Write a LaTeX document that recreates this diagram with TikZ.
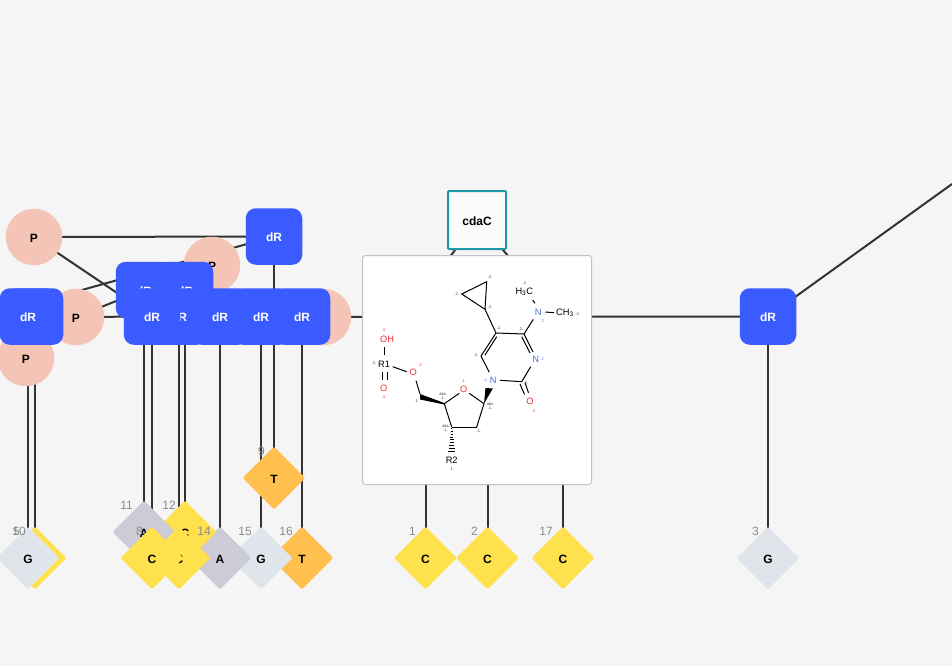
\documentclass[tikz,border=0pt]{standalone}
\usepackage{fontspec}
\setmainfont{Liberation Sans}
\usetikzlibrary{shapes.geometric}
\definecolor{bgc}{HTML}{F5F5F5}
\definecolor{pc}{HTML}{F4C5B6}
\definecolor{drc}{HTML}{3A5BFF}
\definecolor{tc}{HTML}{FFC04D}
\definecolor{cc}{HTML}{FFE04D}
\definecolor{ac}{HTML}{CDCCD6}
\definecolor{gc}{HTML}{E0E5EC}
\definecolor{edgec}{HTML}{333333}
\definecolor{tealc}{HTML}{2196A6}
\definecolor{labc}{HTML}{8A8A8A}
\definecolor{atomred}{HTML}{F0323C}
\definecolor{atomblue}{HTML}{4F6BE0}
\tikzset{
  link/.style={draw=edgec,line width=2pt},
  lowtext/.style={text height=10.4pt,text depth=0pt},
  pnode/.style={circle,fill=pc,minimum size=56.5pt,inner sep=0pt,lowtext,font=\fontsize{12}{12}\selectfont\bfseries},
  drnode/.style={rectangle,rounded corners=10pt,fill=drc,text=white,minimum size=56.5pt,inner sep=0pt,lowtext,font=\fontsize{12}{12}\selectfont\bfseries},
  base/.style={diamond,rounded corners=1.5pt,minimum width=63pt,minimum height=63pt,inner sep=0pt,lowtext,font=\fontsize{12}{12}\selectfont\bfseries},
  baseT/.style={base,fill=tc},
  baseC/.style={base,fill=cc},
  baseA/.style={base,fill=ac},
  baseG/.style={base,fill=gc},
  idx/.style={text=labc,font=\fontsize{12}{12}\selectfont,anchor=east,inner sep=0pt},
  card/.style={rectangle,rounded corners=3pt,fill=white,draw=black!15!gc,line width=1pt,minimum size=229pt,inner sep=0pt},
  sugar/.style={rectangle,fill=bgc!40!white,draw=tealc,line width=2pt,rounded corners=1pt,minimum size=58pt,inner sep=0pt,lowtext,font=\fontsize{12}{12}\selectfont\bfseries},
  bond/.style={draw=black,line width=1pt},
  atom/.style={inner sep=0pt,font=\fontsize{9.3}{9.3}\selectfont},
  tiny/.style={inner sep=0pt,font=\fontsize{4}{4}\selectfont,text=black!75},
}
\begin{document}
\begin{tikzpicture}[x=1pt,y=-1pt]
\useasboundingbox (0,0) rectangle (952,666);
\clip (0,0) rectangle (952,666);
\fill[bgc] (0,0) rectangle (952,666);
\coordinate (cfar) at (952,184);
\coordinate (chid) at (28,305);
\coordinate (chl) at (444,265);
\coordinate (chr) at (516,265);
\path
 (34,237) coordinate (P1) (212,265) coordinate (P2) (76,317) coordinate (P3)
 (26,358) coordinate (P4) (323,317) coordinate (P5)
 (274,236.5) coordinate (D0) (144,290) coordinate (D1) (185,290) coordinate (D2)
 (28,316.5) coordinate (D3) (35,316.5) coordinate (D4) (152,316.5) coordinate (D5)
 (179,316.5) coordinate (D6) (220,316.5) coordinate (D7) (261,316.5) coordinate (D8)
 (302,316.5) coordinate (D9) (768,316.5) coordinate (D10)
 (477,220) coordinate (S) (274,478) coordinate (BT)
 (28,558) coordinate (B5) (35,558) coordinate (B10) (144,532) coordinate (B11)
 (185,532) coordinate (B12) (152,558) coordinate (B8) (179,558) coordinate (B13)
 (220,558) coordinate (B14) (261,558) coordinate (B15) (302,558) coordinate (B16)
 (425.5,558) coordinate (B1) (487.5,558) coordinate (B2) (563,558) coordinate (B17)
 (768,558) coordinate (B3);
% connectors
\draw[link] (P1) -- (D0);
\draw[link] (P1) -- (D5);
\draw[link] (D0) -- (chid);
\draw[link] (P3) -- (D1);
\draw[link] (P3) -- (D5);
\draw[link] (P5) -- (D10);
\draw[link] (D10) -- (cfar);
\draw[link] (S) -- (chl);
\draw[link] (S) -- (chr);
\foreach \a/\b in {D3/B5,D4/B10,D0/BT,D7/B14,D8/B15,D9/B16,D10/B3}{\draw[link] (\a) -- (\b);}
\draw[link] (D1) -- (B11);
\draw[link] (D5) -- (B8);
\draw[link] (D6) -- (B13);
\draw[link] (D2) -- (B12);
\draw[link] (425.5,400) -- (B1);
\draw[link] (487.5,400) -- (B2);
\draw[link] (563,400) -- (B17);
% circles
\node[pnode] (nP1) at (P1) {P};
\node[pnode] (nP2) at (P2) {P};
\node[pnode] (nP3) at (P3) {P};
\node[pnode] (nP4) at (P4) {P};
\node[pnode] (nP5) at (P5) {P};
% boxes
\node[drnode] (nD0) at (D0) {dR};
\node[drnode] (nD1) at (D1) {dR};
\node[drnode] (nD2) at (D2) {dR};
\node[drnode] (nD4) at (D4) {dR};
\node[drnode] (nD3) at (D3) {dR};
\node[drnode] (nD6) at (D6) {dR};
\node[drnode] (nD5) at (D5) {dR};
\node[drnode] (nD7) at (D7) {dR};
\node[drnode] (nD8) at (D8) {dR};
\node[drnode] (nD9) at (D9) {dR};
\node[drnode] (nD10) at (D10) {dR};
% sugar and structure card
\node[sugar] (nS) at (S) {cdaC};
\node[card] (nCard) at (477,370) {};
% diamonds
\node[baseC] (nB10) at (B10) {C};
\node[baseG] (nB5) at (B5) {G};
\node[baseT] (nB16) at (B16) {T};
\node[baseG] (nB15) at (B15) {G};
\node[baseA] (nB14) at (B14) {A};
\node[baseC] (nB12) at (B12) {C};
\node[baseA] (nB11) at (B11) {A};
\node[baseC] (nB13) at (B13) {C};
\node[baseC] (nB8) at (B8) {C};
\node[baseT] (nBT) at (BT) {T};
\node[baseC] (nB1) at (B1) {C};
\node[baseC] (nB2) at (B2) {C};
\node[baseC] (nB17) at (B17) {C};
\node[baseG] (nB3) at (B3) {G};
% index labels
\node[idx] (l5) at (20,531) {5};
\node[idx] (l10) at (26,531) {10};
\node[idx] (l11) at (133,505) {11};
\node[idx] (l12) at (176,505) {12};
\node[idx] (l8) at (143,531) {8};
\node[idx] (l14) at (211,531) {14};
\node[idx] (l15) at (252,531) {15};
\node[idx] (l16) at (293,531) {16};
\node[idx] (l9) at (265,451) {9};
\node[idx] (l1) at (416,531) {1};
\node[idx] (l2) at (478,531) {2};
\node[idx] (l17) at (553,531) {17};
\node[idx] (l3) at (759,531) {3};
% molecule: bonds
\draw[bond] (384,347) -- (384,355);
\draw[bond] (392.7,366.7) -- (406.7,371.7);
\draw[bond] (382.7,372) -- (382.7,380) (387,372) -- (387,380);
\fill (444.3,403) -- (420,394) -- (420,399.5) -- (444.3,404.5) -- cycle;
\draw[bond] (420,394) -- (416,380.7);
\draw[bond] (444.3,403.7) -- (459.3,393.3);
\draw[bond] (469.3,393.3) -- (484,403.7);
\draw[bond] (484,403.7) -- (476.7,426.9);
\draw[bond] (476.7,427) -- (451.7,427);
\draw[bond] (451.7,427) -- (444.3,403.7);
\foreach \i in {0,...,8}{\draw[line width=.6pt] ({451.7-0.5-0.34*\i},{428.5+2.8*\i}) -- ({451.7+0.5+0.34*\i},{428.5+2.8*\i});}
\fill (484,403.7) -- (485.5,388) -- (492.8,388.5) -- cycle;
\draw[bond] (489.3,372.3) -- (481,356);
\draw[bond] (500,380.3) -- (521.7,381.7);
\draw[bond] (521.7,381.7) -- (530.7,366.7);
\draw[bond] (520,384) -- (524.5,394.5) (525,382.5) -- (528.5,392.8);
\draw[bond] (524,334) -- (533.3,319.3);
\draw[bond] (524,334) -- (533,352) (521.7,336.7) -- (530,353);
\draw[bond] (524,334) -- (496,333);
\draw[bond] (496,333) -- (481,356) (496.7,336.7) -- (485,355);
\draw[bond] (496,333) -- (485,309.3);
\draw[bond] (485,309.3) -- (486.7,281.7) -- (461.7,294) -- cycle;
\draw[bond] (532.7,300) -- (535,303.3);
\draw[bond] (545.3,312) -- (554,312.7);
% molecule: atoms
\node[atom,text=atomred] (aOH) at (387,339) {OH};
\node[atom] (aR1) at (384,364) {R1};
\node[atom,text=atomred] (aO5) at (413.3,372.3) {O};
\node[atom,text=atomred] (aOd) at (383.7,388.3) {O};
\node[atom,text=atomred] (aO4) at (463.7,389.3) {O};
\node[atom] (aR2) at (451.7,460) {R2};
\node[atom,text=atomblue] (aN1) at (493.3,380) {N};
\node[atom,text=atomblue] (aN3) at (535.7,359) {N};
\node[atom,text=atomred] (aO2) at (530,401) {O};
\node[atom,text=atomblue] (aN) at (538.3,312) {N};
\node[atom] (aH3C) at (524.3,292) {H\textsubscript{3}C};
\node[atom] (aCH3) at (565,313) {CH\textsubscript{3}};
% molecule: small annotations
\foreach \x/\y/\t in {374/363.5/.3.,490/277.3/.2.,490/307.3/.2.,499.3/328.3/.2.,521/329.3/.2.,525/283.3/.2.,577.7/314/.2.,456.7/294/.2.,476/355.3/.2.,526/382.7/.2.,416.7/400.7/.1.,451.7/469.3/.1.,479/431.3/.1.,442.7/398/.1.,445.7/430/.1.,490/408.3/.1.}{\node[tiny] at (\x,\y) {\t};}
\foreach \x/\y/\t in {442.7/393.7/abs,445.7/425.7/abs,490/403.7/abs}{\node[tiny] at (\x,\y) {\t};}
\foreach \x/\y/\t in {384/330/.3.,384/396.7/.3.,420.7/365.3/.1.,463.7/380.7/.1.,534/410.7/.2.}{\node[tiny,text=atomred] at (\x,\y) {\t};}
\foreach \x/\y/\t in {485.7/380.3/.2.,542.7/359.3/.2.,542.7/320.7/.2.}{\node[tiny,text=atomblue] at (\x,\y) {\t};}
\end{tikzpicture}
\end{document}
